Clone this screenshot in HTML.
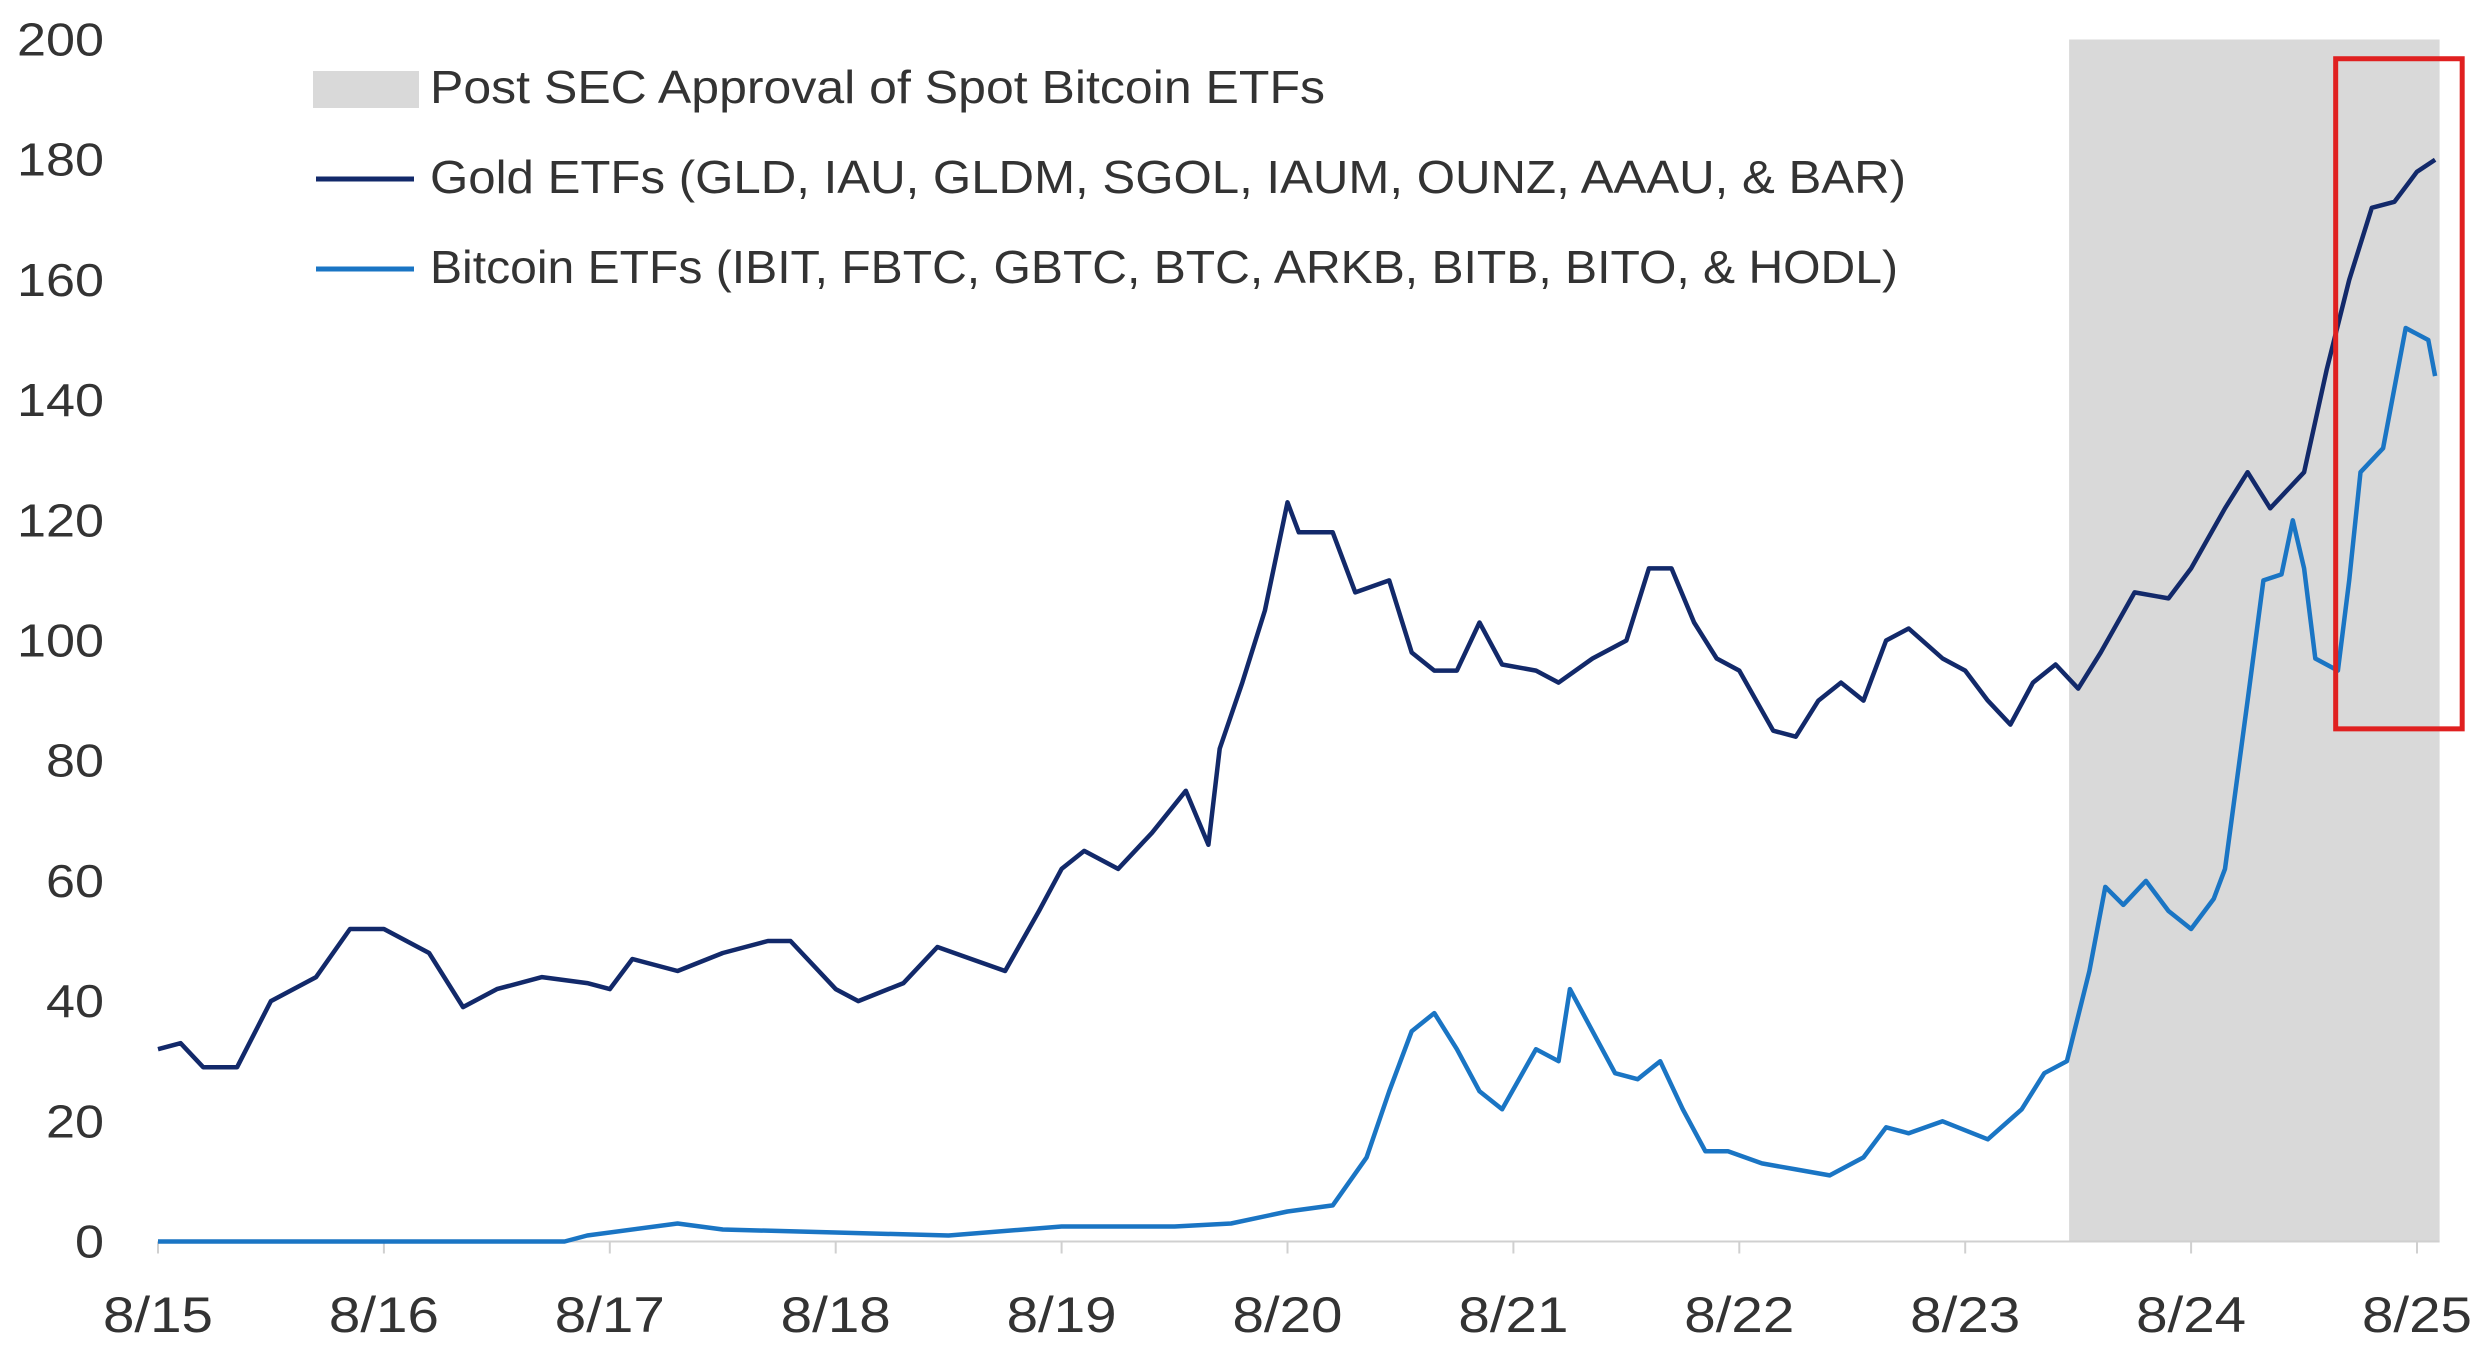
<!DOCTYPE html>
<html><head><meta charset="utf-8"><style>
html,body{margin:0;padding:0;background:#fff;}
svg{display:block;}
text{font-family:"Liberation Sans Narrow","Liberation Sans",sans-serif;fill:#333;}
</style></head><body>
<svg id="chart" width="2480" height="1368" viewBox="0 0 2480 1368">
<g id="shade"></g><g id="axes"></g><g id="series"></g><g id="legend"></g><g id="box"></g>
</svg>
<script>
const yTicks=[0,20,40,60,80,100,120,140,160,180,200];
const xTickLabels=["8/15","8/16","8/17","8/18","8/19","8/20","8/21","8/22","8/23","8/24","8/25"];
const goldT=[0,0.1,0.2,0.35,0.5,0.7,0.85,1.0,1.2,1.35,1.5,1.7,1.9,2.0,2.1,2.3,2.5,2.7,2.8,3.0,3.1,3.3,3.45,3.6,3.75,3.9,4.0,4.1,4.25,4.4,4.55,4.65,4.7,4.8,4.9,5.0,5.05,5.2,5.3,5.45,5.55,5.65,5.75,5.85,5.95,6.1,6.2,6.35,6.5,6.6,6.7,6.8,6.9,7.0,7.15,7.25,7.35,7.45,7.55,7.65,7.75,7.9,8.0,8.1,8.2,8.3,8.4,8.5,8.6,8.75,8.9,9.0,9.15,9.25,9.35,9.5,9.6,9.7,9.8,9.9,10.0,10.08];
const goldV=[32,33,29,29,40,44,52,52,48,39,42,44,43,42,47,45,48,50,50,42,40,43,49,47,45,55,62,65,62,68,75,66,82,93,105,123,118,118,108,110,98,95,95,103,96,95,93,97,100,112,112,103,97,95,85,84,90,93,90,100,102,97,95,90,86,93,96,92,98,108,107,112,122,128,122,128,145,160,172,173,178,180];
const btcT=[0,1.8,1.9,2.3,2.5,3.0,3.5,4.0,4.5,4.75,5.0,5.2,5.35,5.45,5.55,5.65,5.75,5.85,5.95,6.1,6.2,6.25,6.35,6.45,6.55,6.65,6.75,6.85,6.95,7.1,7.25,7.4,7.55,7.65,7.75,7.9,8.1,8.25,8.35,8.45,8.55,8.62,8.7,8.8,8.9,9.0,9.1,9.15,9.25,9.32,9.4,9.45,9.5,9.55,9.65,9.7,9.75,9.85,9.95,10.05,10.08];
const btcV=[0,0,1,3,2,1.5,1,2.5,2.5,3,5,6,14,25,35,38,32,25,22,32,30,42,35,28,27,30,22,15,15,13,12,11,14,19,18,20,17,22,28,30,45,59,56,60,55,52,57,62,90,110,111,120,112,97,95,110,128,132,152,150,144];
const shadeRange=[8.46,10.1];
const boxRange=[9.64,10.2];
const boxVals=[196.8,85.3];

const NS="http://www.w3.org/2000/svg";
const X0=158, XS=225.9, Y0=1241.5, YS=(1241.5-39.5)/200;
const x=t=>X0+t*XS, y=v=>Y0-v*YS;
function mk(tag,attrs,parent,txt){const e=document.createElementNS(NS,tag);for(const k in attrs)e.setAttribute(k,attrs[k]);if(txt!==undefined)e.textContent=txt;document.getElementById(parent).appendChild(e);return e;}

let r=mk('rect',{x:x(shadeRange[0]),y:y(200),width:x(shadeRange[1])-x(shadeRange[0]),height:y(0)-y(200),fill:'#d9d9d9'},'shade');



let ax=mk('line',{x1:x(0),x2:x(10.1),y1:y(0),y2:y(0),stroke:'#d0d0d0','stroke-width':2},'axes');


yTicks.forEach(v=>{
 const s=String(v);
 const t=mk('text',{x:104,y:y(v)+16,'text-anchor':'end','font-size':46,textLength:29*s.length,lengthAdjust:'spacingAndGlyphs'},'axes',s);
 
 
});
xTickLabels.forEach((l,i)=>{
 const tk=mk('line',{x1:x(i),x2:x(i),y1:y(0),y2:y(0)+12,stroke:'#d0d0d0','stroke-width':2},'axes');
 
 
 const t=mk('text',{x:x(i),y:1332,'text-anchor':'middle','font-size':50,textLength:110,lengthAdjust:'spacingAndGlyphs'},'axes',l);
 
 
});
function line(T,V,color,name){
 const d=T.map((t,i)=>(i?'L':'M')+x(t).toFixed(1)+','+y(V[i]).toFixed(1)).join('');
 const p=mk('path',{d:d,fill:'none',stroke:color,'stroke-width':4.5,'stroke-linejoin':'round'},'series');
 
 
}
line(btcT,btcV,'#1a75c4','bitcoin-etfs-line');
line(goldT,goldV,'#12296a','gold-etfs-line');

let lr=mk('rect',{x:313,y:71,width:106,height:37,fill:'#d9d9d9'},'legend');


let l1=mk('line',{x1:316,x2:414,y1:179,y2:179,stroke:'#12296a','stroke-width':5},'legend');


let l2=mk('line',{x1:316,x2:414,y1:269,y2:269,stroke:'#1a75c4','stroke-width':5},'legend');


[["Post SEC Approval of Spot Bitcoin ETFs",103,895],["Gold ETFs (GLD, IAU, GLDM, SGOL, IAUM, OUNZ, AAAU, & BAR)",193,1476],["Bitcoin ETFs (IBIT, FBTC, GBTC, BTC, ARKB, BITB, BITO, & HODL)",283,1468]].forEach(([s,yy,w])=>{
 const t=mk('text',{x:430,y:yy,'font-size':46,textLength:w,lengthAdjust:'spacingAndGlyphs'},'legend',s);
 
 
});
let bx=mk('rect',{x:x(boxRange[0]),y:y(boxVals[0]),width:x(boxRange[1])-x(boxRange[0]),height:y(boxVals[1])-y(boxVals[0]),fill:'none',stroke:'#e02020','stroke-width':5},'box');


</script>
</body></html>
